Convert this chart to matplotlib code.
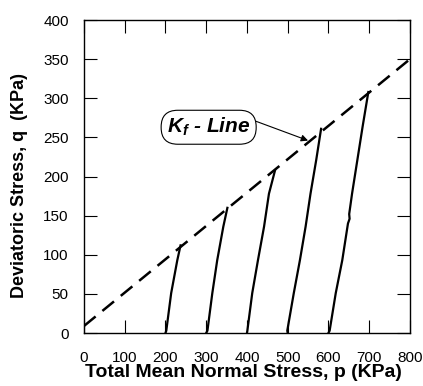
import numpy as np
import matplotlib.pyplot as plt

plt.rcParams['font.family'] = 'Liberation Sans'
plt.rcParams['mathtext.fontset'] = 'custom'
plt.rcParams['mathtext.it'] = 'Liberation Sans:italic:bold'
plt.rcParams['mathtext.rm'] = 'Liberation Sans'

# K_f line (failure envelope)
kf_p = [0, 800]
kf_q = [9, 350]

# stress paths
path_p = [[200, 202, 214, 229, 237],
          [300, 303, 315, 327, 342, 352],
          [400, 401, 413, 427, 442, 454, 469],
          [500, 499, 515, 530, 544, 556, 570, 582],
          [600, 603, 618, 634, 648, 652, 651, 658, 671, 684, 698]]
path_q = [[0, 3, 51, 93, 112],
          [0, 3, 51, 93, 136, 160],
          [0, 3, 51, 93, 136, 178, 208],
          [0, 3, 51, 93, 136, 178, 221, 261],
          [0, 3, 51, 93, 140, 146, 152, 178, 221, 264, 308]]

xticks = range(0, 801, 100)
yticks = range(0, 401, 50)

fig = plt.figure(figsize=(4.23, 3.86), dpi=100)
ax = fig.add_axes([0.1986, 0.1373, 0.7704, 0.8107])

ax.plot(kf_p, kf_q, color='k', lw=1.8, dashes=(6, 3.5))
for p, q in zip(path_p, path_q):
    ax.plot(p, q, color='k', lw=1.6)

ax.annotate(r'$K_f$ - Line', xy=(550, 246), xytext=(306, 263),
            fontsize=15, style='italic', fontweight='bold',
            ha='center', va='center',
            bbox=dict(boxstyle='round,pad=0.28,rounding_size=0.8',
                      fc='white', ec='k', lw=0.8),
            arrowprops=dict(arrowstyle='-|>', color='k', lw=0.8,
                            mutation_scale=10, shrinkA=0, shrinkB=0,
                            relpos=(0.9, 1.0)))

ax.set_xlim(0, 800)
ax.set_ylim(0, 400)
ax.set_xticks(xticks)
ax.set_yticks(yticks)
ax.tick_params(direction='in', length=9.5, width=0.8, top=True, right=True,
               labelsize=11)
ax.tick_params(axis='x', pad=13)
ax.tick_params(axis='y', pad=11)
for s in ax.spines.values():
    s.set_linewidth(1.0)

ax.set_xlabel('Total Mean Normal Stress, p (KPa)', fontsize=14,
              fontweight='bold')
ax.xaxis.set_label_coords(0.49, -0.1)
ax.set_ylabel('Deviatoric Stress, q  (KPa)', fontsize=13,
              fontweight='bold')
ax.yaxis.set_label_coords(-0.172, 0.47)

fig.savefig('out.png', dpi=100)
